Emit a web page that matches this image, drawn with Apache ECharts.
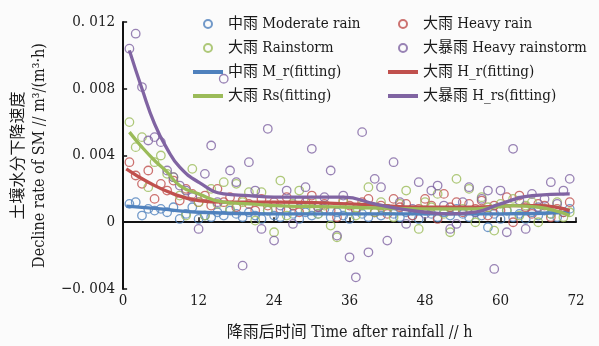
<!DOCTYPE html>
<html>
<head>
<meta charset="utf-8">
<script src="https://cdn.jsdelivr.net/npm/echarts@6/dist/echarts.min.js"></script>
<style>
html, body { margin: 0; background: #fbfbfb; }
#chart { width: 599px; height: 346px; }
</style>
</head>
<body>
<div id="chart"></div>
<script>
// 降雨后时间 (h)
var hours = [1,2,3,4,5,6,7,8,9,10,11,12,13,14,15,16,17,18,19,20,21,22,23,24,25,26,27,28,29,30,
  31,32,33,34,35,36,37,38,39,40,41,42,43,44,45,46,47,48,49,50,51,52,53,54,55,56,57,58,59,60,
  61,62,63,64,65,66,67,68,69,70,71];

// 实测点
var moderateRain = [0.0011,0.0012,0.0004,0.0008,0.0007,0.0008,0.0006,0.0009,0.0002,0.0005,
  0.0009,0.0002,0.0004,0.0003,0.0006,0.0004,0.0007,0.0005,0.0003,0.0006,
  0.0004,0.0002,0.0007,0.0004,0.0003,0.0007,0.0005,0.0002,0.0006,0.0004,
  0.0005,0.0008,0.0003,0.0006,0.0004,0.0002,0.0007,0.0005,0.0003,0.0006,
  0.0004,0.0008,0.0005,0.0003,0.0006,0.0004,0.0002,0.0007,0.0005,0.0003,
  0.0006,0.0004,0.0008,0.0005,0.0003,0.0006,0.0004,-0.0003,0.0005,0.0002,
  0.0007,0.0003,0.0005,0.0002,0.0006,0.0004,0.0007,0.0005,0.0003,0.0006,0.0008];
var heavyRain = [0.0036,0.0028,0.0023,0.0031,0.0014,0.0023,0.0019,0.0025,0.0013,0.0020,
  0.0017,0.0012,0.0016,0.0010,0.0020,0.0012,0.0015,0.0009,0.0013,0.0011,
  0.0007,0.0014,0.0010,0.0012,0.0008,0.0015,0.0010,0.0006,0.0012,0.0016,
  0.0009,0.0011,0.0007,0.0003,0.0013,0.0010,0.0008,0.0012,0.0014,0.0006,
  0.0010,0.0005,0.0014,0.0009,0.0011,0.0004,0.0008,0.0014,0.0010,0.0002,
  0.0017,0.0009,0.0012,0.0006,0.0011,0.0008,0.0013,0.0004,0.0010,0.0007,
  0.0015,0.0000,0.0016,0.0009,0.0005,0.0011,0.0010,0.0003,0.0008,0.0006,0.0012];
var rainstorm = [0.0060,0.0045,0.0051,0.0021,0.0036,0.0040,0.0029,0.0027,0.0016,0.0004,
  0.0032,0.0012,0.0004,0.0020,0.0011,0.0024,0.0008,0.0023,0.0012,0.0018,
  0.0001,0.0018,0.0007,-0.0006,0.0025,0.0004,0.0011,0.0019,0.0008,0.0013,
  0.0005,0.0010,-0.0002,-0.0009,0.0012,0.0007,0.0004,0.0010,0.0021,0.0006,
  0.0012,0.0008,0.0003,0.0011,0.0019,0.0007,-0.0004,0.0012,0.0009,0.0017,
  0.0005,-0.0006,0.0026,0.0008,0.0020,0.0000,0.0015,0.0009,-0.0005,0.0011,
  0.0007,0.0014,0.0004,0.0010,0.0012,0.0000,0.0008,0.0005,0.0012,0.0003,0.0006];
var heavyRainstorm = [0.0104,0.0113,0.0081,0.0049,0.0051,0.0048,0.0031,0.0027,0.0022,0.0019,
  0.0015,-0.0004,0.0029,0.0046,0.0012,0.0086,0.0031,0.0024,-0.0026,0.0036,
  0.0019,-0.0004,0.0056,-0.0011,0.0010,0.0019,-0.0001,0.0013,0.0021,0.0044,
  0.0009,0.0015,0.0031,-0.0008,0.0016,-0.0021,-0.0033,0.0054,-0.0018,0.0026,
  0.0021,-0.0011,0.0036,0.0012,-0.0001,0.0008,0.0024,0.0005,0.0019,0.0022,
  0.0010,-0.0004,-0.0001,0.0012,0.0021,0.0006,0.0014,0.0019,-0.0028,0.0019,
  -0.0006,0.0044,0.0013,-0.0004,0.0017,0.0009,0.0014,0.0024,0.0011,0.0019,0.0026];

// 拟合曲线
var mrX = [0.5, 6, 12, 24, 36, 48, 60, 71];
var mrY = [0.00097, 0.0008, 0.0006, 0.0005, 0.0005, 0.0005, 0.0005, 0.0006];
var hrX = [0.5, 4, 8, 12, 16, 24, 36, 48, 56, 62, 66, 71];
var hrY = [0.0032, 0.0024, 0.0017, 0.0013, 0.0012, 0.0012, 0.0011, 0.0009, 0.0009, 0.0010, 0.0010, 0.0007];
var rsX = [1, 3, 5, 7, 9, 12, 16, 20, 24, 36, 48, 56, 62, 66, 71];
var rsY = [0.0054, 0.0045, 0.0037, 0.0030, 0.0022, 0.0017, 0.0012, 0.0011, 0.0010, 0.0009, 0.0008, 0.0008, 0.0010, 0.0009, 0.0004];
var hrsX = [1, 3, 5, 7, 9, 12, 16, 20, 24, 30, 35, 40, 44, 48, 52, 56, 60, 65, 71];
var hrsY = [0.0103, 0.0080, 0.0059, 0.0044, 0.0033, 0.0024, 0.0017, 0.0016, 0.0015, 0.0015, 0.0015, 0.0011, 0.0008, 0.0006, 0.0005, 0.0006, 0.0011, 0.0016, 0.0017];

var yTickLabels = {'0.012': '0. 012', '0.008': '0. 008', '0.004': '0. 004', '0': '0', '-0.004': '\u22120. 004'};

var C_BLUE = '#4f81bd', C_RED = '#c0504d', C_GREEN = '#9bbb59', C_PURPLE = '#8064a2';
var FONT = "'DejaVu Serif Condensed', 'Liberation Serif', 'Noto Sans CJK SC', serif";
var LINE_ICON = 'path://M0,0L30,0L30,4L0,4Z';

function pairs(xs, ys) {
  var out = [];
  for (var i = 0; i < xs.length; i++) out.push([xs[i], ys[i]]);
  return out;
}

function scatter(name, ys, color) {
  return {
    name: name, type: 'scatter', symbol: 'circle', symbolSize: 8.5,
    itemStyle: { color: 'rgba(255,255,255,0)', borderColor: color, borderWidth: 1.3 },
    data: pairs(hours, ys)
  };
}

function fit(name, xs, ys, color) {
  return {
    name: name, type: 'line', smooth: true, symbol: 'none',
    lineStyle: { color: color, width: 3.3 },
    itemStyle: { color: color },
    data: pairs(xs, ys), z: 5
  };
}

var chart = echarts.init(document.getElementById('chart'));

var legendBase = {
  orient: 'vertical', top: 11, itemWidth: 30, itemHeight: 8, itemGap: 8,
  textStyle: { fontFamily: FONT, fontSize: 15, color: '#1a1a1a', lineHeight: 16 }
};

chart.setOption({
  backgroundColor: '#fbfbfb',
  animation: false,
  grid: { left: 121, right: 23, top: 22, bottom: 56 },
  legend: [
    Object.assign({}, legendBase, {
      left: 188, itemTextGap: 9,
      data: [
        { name: '中雨 Moderate rain', icon: 'circle' },
        { name: '大雨 Rainstorm', icon: 'circle' },
        { name: '中雨 M_r(fitting)', icon: LINE_ICON, itemStyle: { color: C_BLUE } },
        { name: '大雨 Rs(fitting)', icon: LINE_ICON, itemStyle: { color: C_GREEN } }
      ]
    }),
    Object.assign({}, legendBase, {
      left: 383, itemTextGap: 12,
      data: [
        { name: '大雨 Heavy rain', icon: 'circle' },
        { name: '大暴雨 Heavy rainstorm', icon: 'circle' },
        { name: '大雨 H_r(fitting)', icon: LINE_ICON, itemStyle: { color: C_RED } },
        { name: '大暴雨 H_rs(fitting)', icon: LINE_ICON, itemStyle: { color: C_PURPLE } }
      ]
    })
  ],
  xAxis: {
    type: 'value', min: 0, max: 72, interval: 12,
    name: '降雨后时间 Time after rainfall // h',
    nameLocation: 'middle', nameGap: 36,
    nameTextStyle: { fontFamily: FONT, fontSize: 16, color: '#1a1a1a' },
    axisLine: { lineStyle: { color: '#111', width: 2 } },
    axisTick: { inside: true, length: 5, lineStyle: { color: '#111', width: 1.5 } },
    axisLabel: { fontFamily: FONT, fontSize: 15, color: '#1a1a1a', margin: 5 },
    splitLine: { show: false }
  },
  yAxis: {
    type: 'value', min: -0.004, max: 0.012, interval: 0.004,
    name: '土壤水分下降速度\nDecline rate of SM // m³/(m³·h)',
    nameLocation: 'middle', nameGap: 58, nameRotate: 90,
    nameTextStyle: { fontFamily: FONT, fontSize: 16, color: '#1a1a1a', lineHeight: 21 },
    axisLine: { lineStyle: { color: '#111', width: 2 } },
    axisTick: { inside: true, length: 4, lineStyle: { color: '#111', width: 1.5 } },
    axisLabel: {
      fontFamily: FONT, fontSize: 15, color: '#1a1a1a', margin: 8,
      formatter: function (v) {
        var k = String(Math.round(v * 1000) / 1000);
        return yTickLabels[k] !== undefined ? yTickLabels[k] : k;
      }
    },
    splitLine: { show: false }
  },
  series: [
    scatter('中雨 Moderate rain', moderateRain, C_BLUE),
    scatter('大雨 Heavy rain', heavyRain, C_RED),
    scatter('大雨 Rainstorm', rainstorm, C_GREEN),
    scatter('大暴雨 Heavy rainstorm', heavyRainstorm, C_PURPLE),
    fit('中雨 M_r(fitting)', mrX, mrY, C_BLUE),
    fit('大雨 H_r(fitting)', hrX, hrY, C_RED),
    fit('大雨 Rs(fitting)', rsX, rsY, C_GREEN),
    fit('大暴雨 H_rs(fitting)', hrsX, hrsY, C_PURPLE)
  ]
});
</script>
</body>
</html>
